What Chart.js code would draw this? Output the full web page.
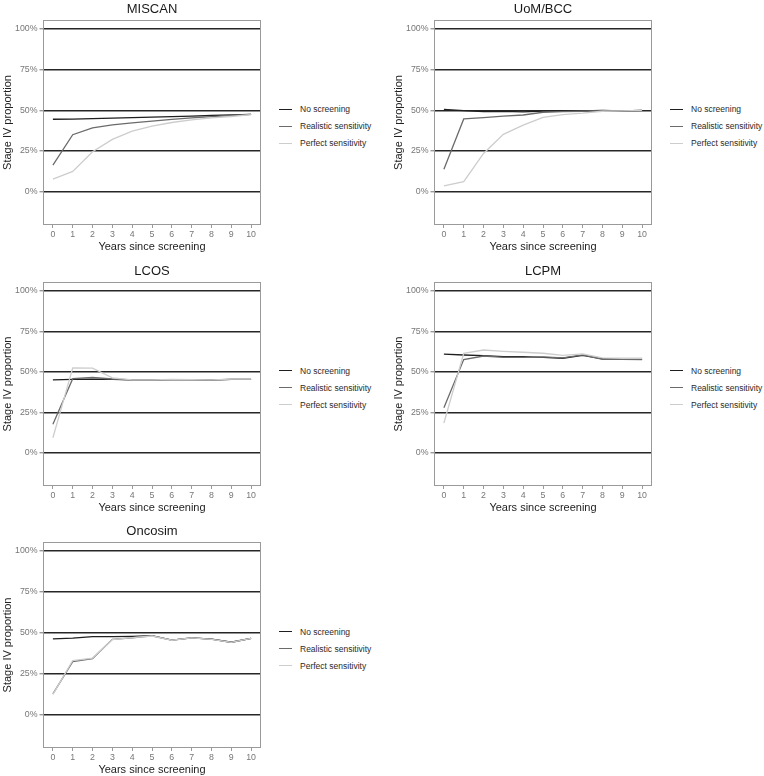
<!DOCTYPE html>
<html>
<head>
<meta charset="utf-8">
<script src="https://cdn.jsdelivr.net/npm/chart.js@4"></script>
<style>
  html, body { margin: 0; padding: 0; background: #fff; }
  body { width: 764px; height: 776px; position: relative; overflow: hidden; font-family: "Liberation Sans", Arial, sans-serif; }
  .panel { position: absolute; }
  .legend { position: absolute; width: 110px; font-size: 8.5px; color: #2a2a2a; }
  .legend-item { position: absolute; left: 0; height: 10px; line-height: 10px; white-space: nowrap; }
  .legend-swatch { position: absolute; left: 0; top: 4.5px; width: 13px; height: 0; border-top: 1.3px solid; }
  .legend-text { position: absolute; left: 21px; top: 0; }
</style>
</head>
<body>
<script>
// x categories and y ticks
var years = ['0', '1', '2', '3', '4', '5', '6', '7', '8', '9', '10'];
var yTicks = [0, 25, 50, 75, 100];
var seriesNames = ['No screening', 'Realistic sensitivity', 'Perfect sensitivity'];
var seriesColors = ['#1f1f1f', '#6b6b6b', '#cdcdcd'];

// Stage IV proportion (%) per model
var miscanNone = [44.5, 44.6, 44.9, 45.2, 45.5, 45.8, 46.1, 46.4, 46.8, 47.2, 47.5];
var miscanRealistic = [16.3, 35.0, 39.2, 41.1, 42.3, 43.4, 44.4, 45.3, 46.1, 46.8, 47.5];
var miscanPerfect = [7.7, 12.4, 24.5, 32.1, 37.2, 40.3, 42.5, 44.1, 45.3, 46.2, 47.3];

var uomNone = [50.5, 49.8, 49.2, 49.3, 49.0, 49.5, 49.5, 49.6, 50.0, 49.7, 50.0];
var uomRealistic = [13.8, 44.7, 45.5, 46.4, 47.1, 48.8, 49.2, 49.4, 49.8, 49.6, 50.0];
var uomPerfect = [3.5, 6.1, 23.5, 35.2, 40.9, 45.7, 47.4, 48.2, 49.4, 49.6, 50.0];

var lcosNone = [45.0, 45.3, 45.5, 45.3, 45.0, 45.0, 45.2, 45.2, 45.0, 45.3, 45.4];
var lcosRealistic = [17.6, 45.8, 46.5, 45.6, 45.0, 45.0, 45.2, 45.1, 44.9, 45.4, 45.4];
var lcosPerfect = [9.3, 52.5, 52.3, 46.3, 45.0, 45.0, 45.4, 45.2, 45.0, 45.5, 45.5];

var lcpmNone = [60.9, 60.4, 60.0, 59.4, 59.4, 59.0, 58.4, 60.2, 58.0, 58.0, 57.8];
var lcpmRealistic = [27.9, 57.6, 59.8, 59.0, 59.0, 59.2, 58.6, 60.5, 57.8, 57.8, 57.6];
var lcpmPerfect = [18.4, 61.5, 63.5, 62.7, 62.1, 61.5, 60.2, 61.1, 58.6, 58.4, 58.4];

var oncoNone = [46.3, 46.7, 47.6, 47.6, 47.8, 48.2, 45.5, 46.9, 46.1, 44.2, 46.6];
var oncoRealistic = [12.6, 32.3, 34.2, 46.0, 46.9, 48.1, 45.5, 46.9, 46.1, 44.2, 46.6];
var oncoPerfect = [12.3, 33.0, 34.5, 45.8, 47.0, 48.0, 45.4, 46.8, 46.0, 44.1, 46.6];

var FONT = '"Liberation Sans", Arial, sans-serif';

// grey frame round the plotting area (ggplot panel border)
var panelBorder = {
  id: 'panelBorder',
  afterDraw: function (chart) {
    var a = chart.chartArea, ctx = chart.ctx;
    ctx.save();
    ctx.strokeStyle = '#9a9a9a';
    ctx.lineWidth = 1;
    ctx.strokeRect(a.left + 0.5, a.top + 0.5, a.right - a.left - 1, a.bottom - a.top - 1);
    ctx.restore();
  }
};

function drawPanel(title, series, box) {
  var padL = 43, padT = 20, padB = 33, padR = 9;
  var w = box.right - box.left, h = box.bottom - box.top;

  var wrap = document.createElement('div');
  wrap.className = 'panel';
  wrap.style.left = (box.left - padL) + 'px';
  wrap.style.top = (box.top - padT) + 'px';
  var canvas = document.createElement('canvas');
  canvas.width = w + padL + padR;
  canvas.height = h + padT + padB;
  wrap.appendChild(canvas);
  document.body.appendChild(wrap);

  var datasets = series.map(function (vals, i) {
    return {
      label: seriesNames[i],
      data: vals,
      borderColor: seriesColors[i],
      backgroundColor: seriesColors[i],
      borderWidth: 1.3,
      pointRadius: 0,
      tension: 0,
      fill: false,
      order: 3 - i // later series drawn on top, as in ggplot
    };
  });

  var chart = new Chart(canvas, {
    type: 'line',
    data: { labels: years, datasets: datasets },
    plugins: [panelBorder],
    options: {
      responsive: false,
      animation: false,
      layout: { padding: { left: 0, top: 0, right: padR, bottom: 0 } },
      plugins: {
        legend: { display: false },
        tooltip: { enabled: false },
        title: {
          display: true,
          text: title,
          fullSize: false,
          color: '#1a1a1a',
          font: { family: FONT, size: 13, weight: 'normal', style: 'normal', lineHeight: 1.2 },
          padding: { top: 2, bottom: 2.4 }
        }
      },
      scales: {
        x: {
          type: 'category',
          offset: true,
          grid: { drawOnChartArea: false, drawTicks: true, tickLength: 3, tickColor: '#9a9a9a' },
          border: { display: false },
          ticks: { color: '#777', font: { family: FONT, size: 8.8 }, padding: 1, maxRotation: 0, autoSkip: false },
          title: {
            display: true,
            text: 'Years since screening',
            color: '#222',
            font: { family: FONT, size: 11, lineHeight: 1.2 },
            padding: { top: 0, bottom: 4.7 }
          },
          afterFit: function (scale) { scale.height = padB; }
        },
        y: {
          min: -20.5,
          max: 105.5,
          afterBuildTicks: function (scale) {
            scale.ticks = yTicks.map(function (v) { return { value: v }; });
          },
          grid: { color: '#262626', lineWidth: 1.4, drawTicks: true, tickLength: 3.5, tickColor: '#9a9a9a' },
          border: { display: false },
          ticks: {
            color: '#777',
            font: { family: FONT, size: 8.8 },
            padding: 2,
            callback: function (v) { return v + '%'; }
          },
          title: {
            display: true,
            text: 'Stage IV proportion',
            color: '#222',
            font: { family: FONT, size: 11, lineHeight: 1.2 },
            padding: { top: 1, bottom: 0 }
          },
          afterFit: function (scale) { scale.width = padL; }
        }
      }
    }
  });

  // legend to the right of the panel, like ggplot's guide
  var area = chart.chartArea;
  var legend = document.createElement('div');
  legend.className = 'legend';
  var pageLeft = box.left - padL + area.right + 18;
  var mid = box.top - padT + (area.top + area.bottom) / 2 + 3.5;
  legend.style.left = pageLeft + 'px';
  legend.style.top = (mid - 17 - 5) + 'px';
  legend.innerHTML = seriesNames.map(function (name, i) {
    return '<div class="legend-item" style="top:' + (i * 17) + 'px">' +
      '<span class="legend-swatch" style="border-color:' + seriesColors[i] + '"></span>' +
      '<span class="legend-text">' + name + '</span>' +
      '</div>';
  }).join('');
  document.body.appendChild(legend);
}

drawPanel('MISCAN', [miscanNone, miscanRealistic, miscanPerfect], { left: 43, top: 20, right: 261, bottom: 225 });
drawPanel('UoM/BCC', [uomNone, uomRealistic, uomPerfect], { left: 434, top: 20, right: 652, bottom: 225 });
drawPanel('LCOS', [lcosNone, lcosRealistic, lcosPerfect], { left: 43, top: 282, right: 261, bottom: 486 });
drawPanel('LCPM', [lcpmNone, lcpmRealistic, lcpmPerfect], { left: 434, top: 282, right: 652, bottom: 486 });
drawPanel('Oncosim', [oncoNone, oncoRealistic, oncoPerfect], { left: 43, top: 542, right: 261, bottom: 748 });
</script>
</body>
</html>
